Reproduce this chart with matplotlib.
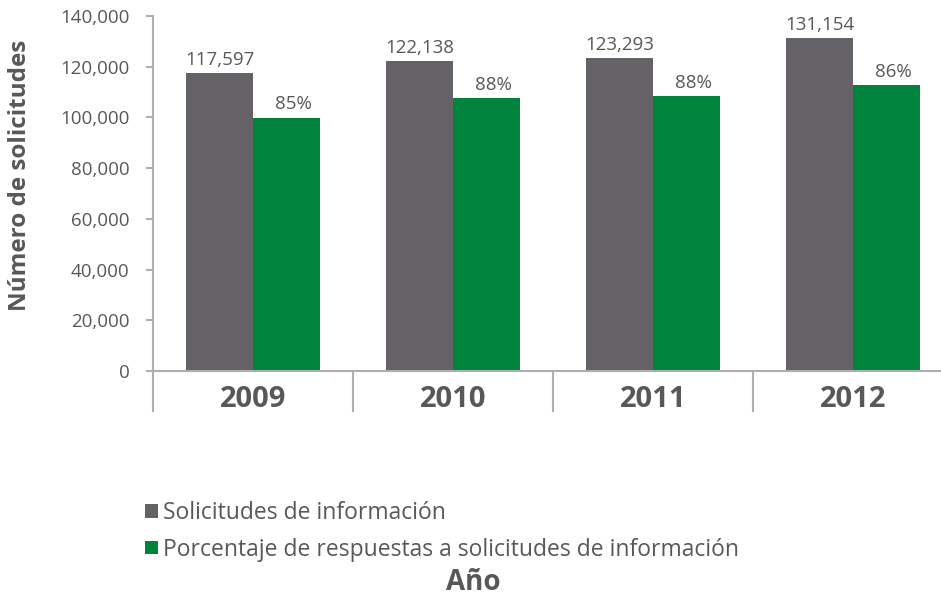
import numpy as np
import matplotlib.pyplot as plt
from matplotlib.ticker import FuncFormatter

# datos
anios = ['2009', '2010', '2011', '2012']
solicitudes = [117597, 122138, 123293, 131154]
respuestas = [99957, 107481, 108498, 112792]
porcentajes = ['85%', '88%', '88%', '86%']

gris = '#646267'
verde = '#00843D'
texto = '#58585A'
linea = '#AEAEB0'

plt.rcParams['font.family'] = ['Open Sans', 'DejaVu Sans']

fig = plt.figure(figsize=(9.41, 5.96), dpi=100)
ax = fig.add_axes([153/941, 1-371/596, 800/941, 355/596])

x = np.arange(len(anios))
w = 0.335
b1 = ax.bar(x - w/2, solicitudes, w, color=gris, label='Solicitudes de información')
b2 = ax.bar(x + w/2, respuestas, w, color=verde,
            label='Porcentaje de respuestas a solicitudes de información')

for r, v in zip(b1, solicitudes):
    ax.annotate(f'{v:,}', (r.get_x() + r.get_width()/2, r.get_height()),
                xytext=(0, 3), textcoords='offset points', ha='center', va='bottom',
                fontsize=13.5, color=texto)
for r, p in zip(b2, porcentajes):
    ax.annotate(p, (r.get_x() + r.get_width()/2, r.get_height()),
                xytext=(5, 3), textcoords='offset points', ha='center', va='bottom',
                fontsize=13.5, color=texto)

ax.set_xlim(-0.5, 3.5)
ax.set_ylim(0, 140000)
ax.set_yticks(np.arange(0, 140001, 20000))
ax.yaxis.set_major_formatter(FuncFormatter(lambda v, pos: f'{int(v):,}'))
ax.tick_params(axis='y', length=5, width=1.5, color=linea, labelsize=13.5,
               labelcolor=texto, pad=12)

ax.set_xticks(x)
ax.set_xticklabels(anios, fontsize=21, fontweight='bold', color=texto)
ax.set_xticks(np.arange(-0.5, 4, 1), minor=True)
ax.tick_params(axis='x', which='major', length=0, pad=10)
ax.tick_params(axis='x', which='minor', length=29.5, width=1.5, color=linea)

for s in ['top', 'right']:
    ax.spines[s].set_visible(False)
for s in ['left', 'bottom']:
    ax.spines[s].set_color(linea)
    ax.spines[s].set_linewidth(1.5)

ax.set_ylabel('Número de solicitudes', fontsize=17.5, fontweight='bold', color=texto)
ax.yaxis.set_label_coords(-0.151, 0.55)

ax.legend(loc='upper left', bbox_to_anchor=(145/941, 1-501/596),
          bbox_transform=fig.transFigure, frameon=False, fontsize=16.5,
          handlelength=0.55, handleheight=0.55, handletextpad=0.25,
          labelspacing=0.55, labelcolor=texto, borderpad=0, borderaxespad=0)

fig.text(473/941, 1-582/596, 'Año', ha='center', va='center', fontsize=20,
         fontweight='bold', color=texto)

plt.savefig('out.png', dpi=100)
plt.close()
